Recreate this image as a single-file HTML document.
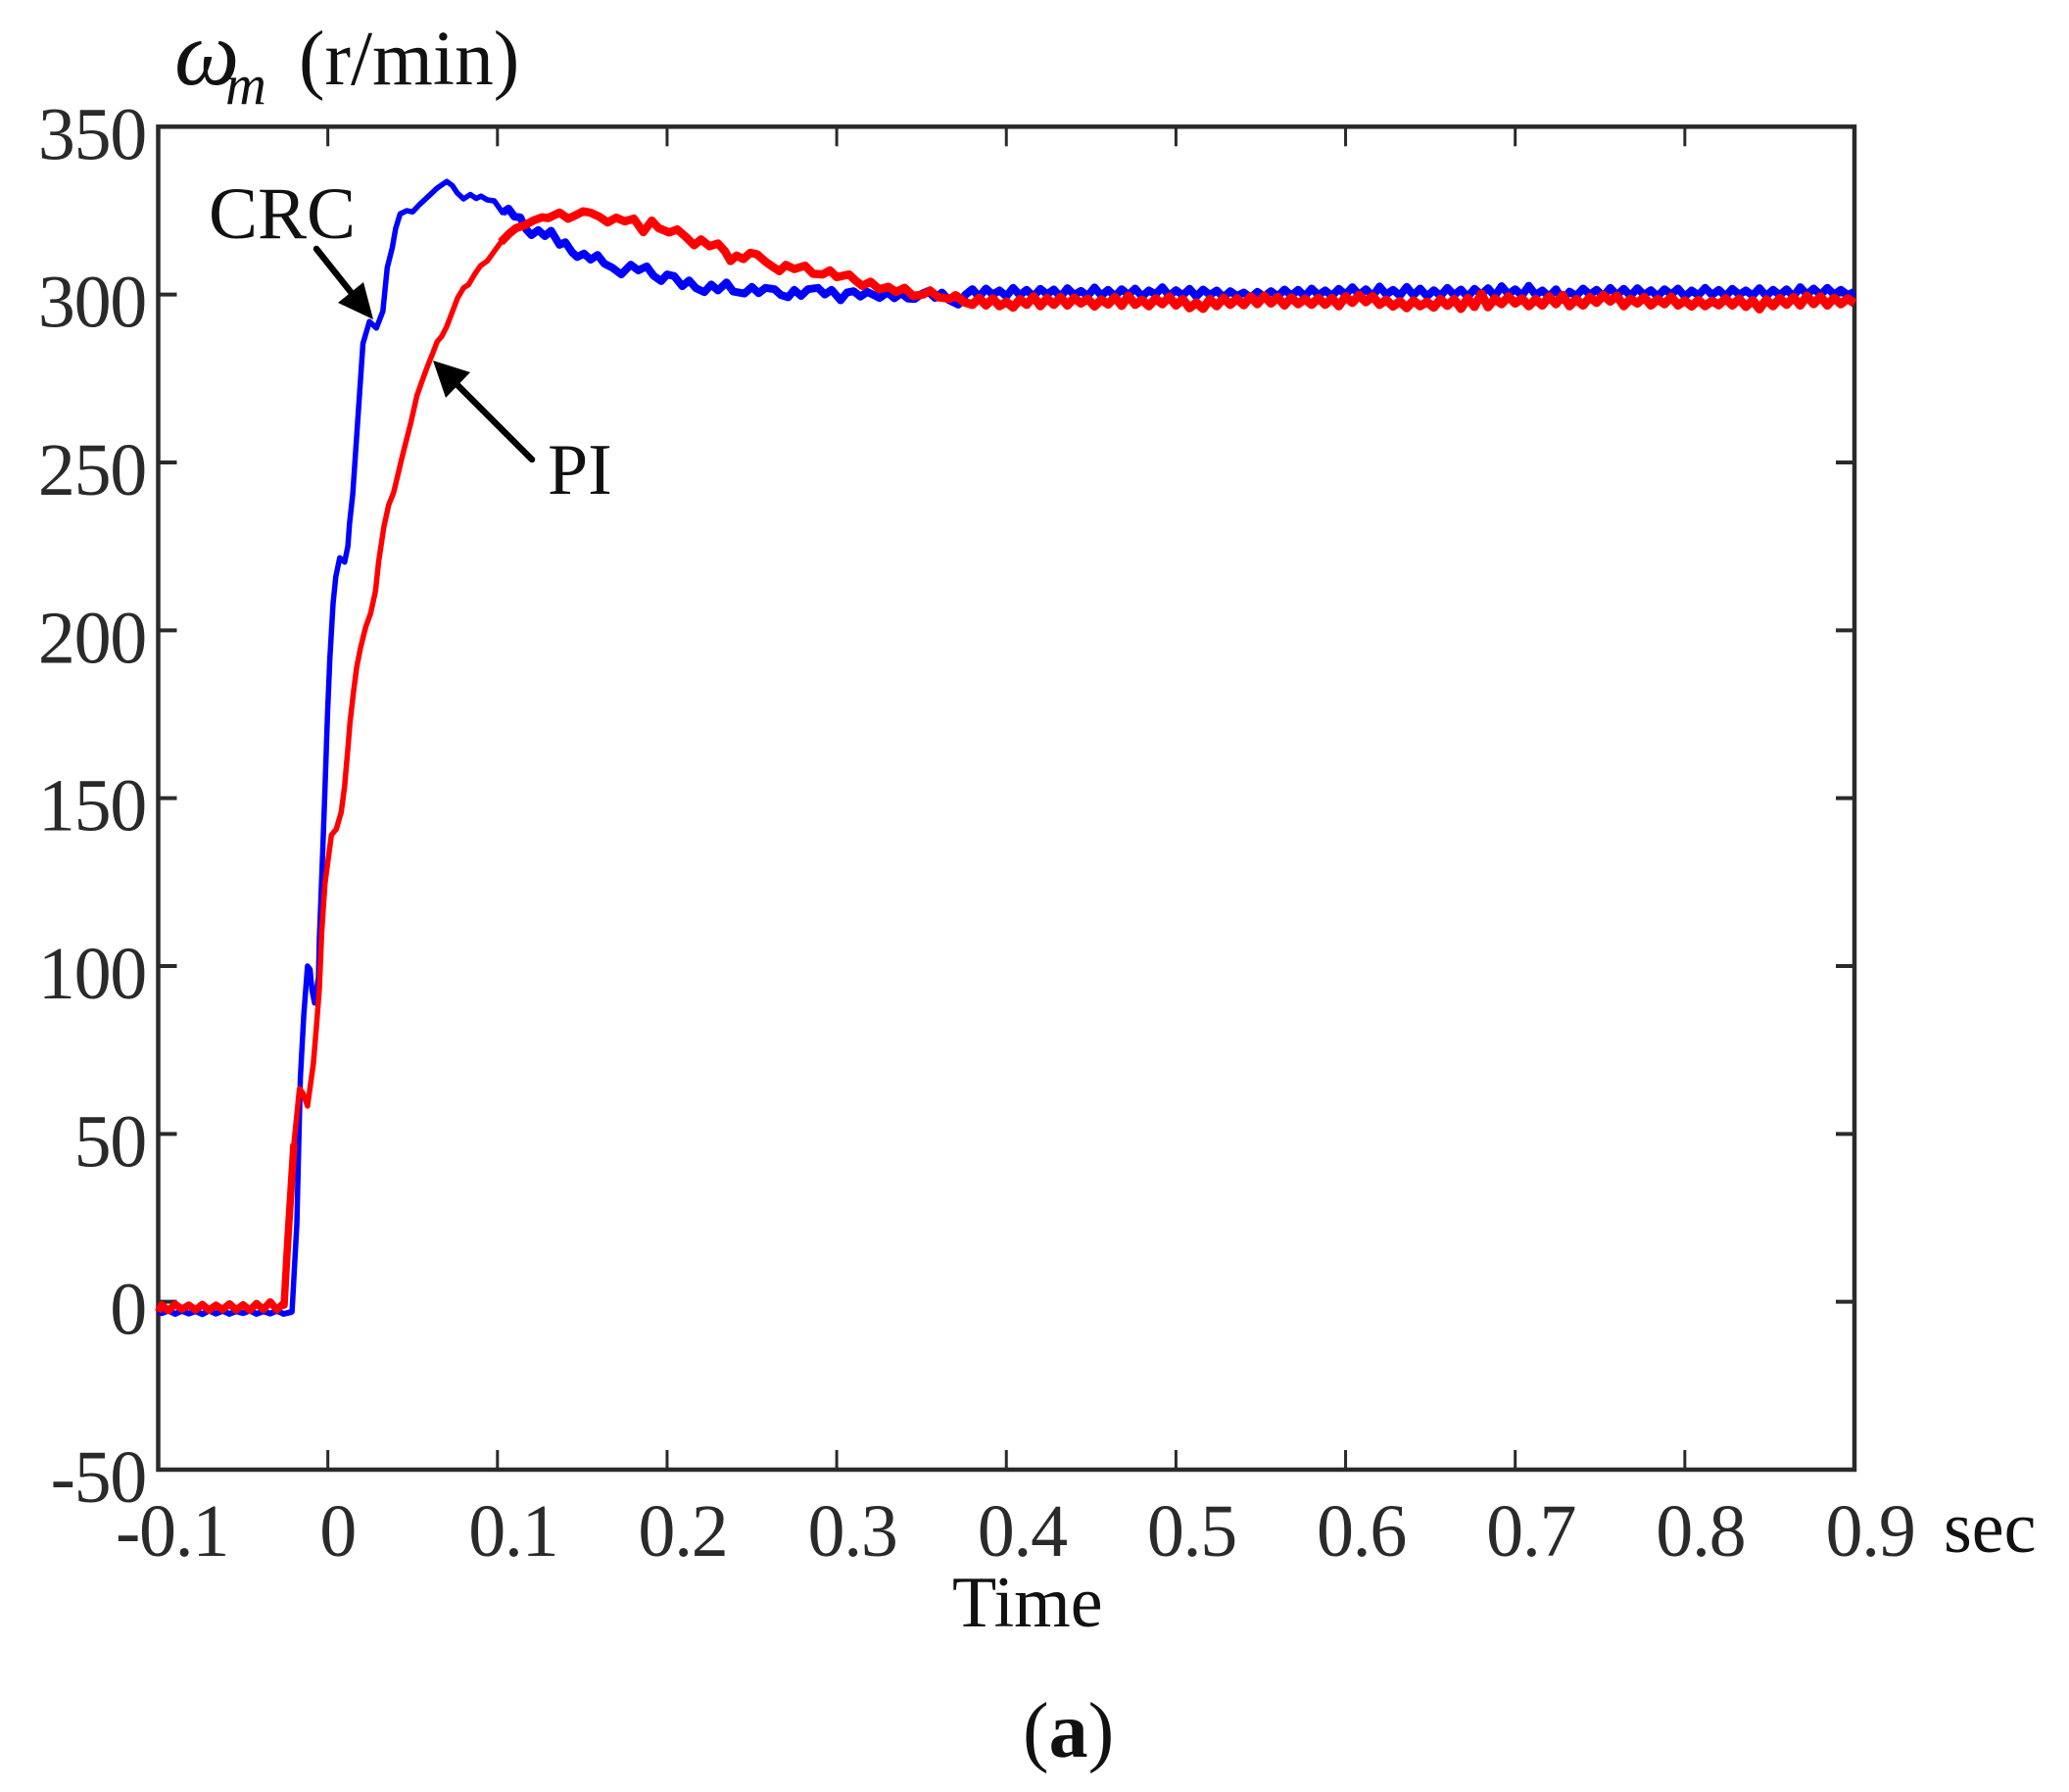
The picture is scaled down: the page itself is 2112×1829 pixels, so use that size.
<!DOCTYPE html>
<html lang="en">
<head>
<meta charset="utf-8">
<title>Speed response</title>
<style>
html,body{margin:0;padding:0;background:#fff;}
svg{display:block;}
text{font-family:"Liberation Serif",serif;}
</style>
</head>
<body>
<svg id="chart" xmlns="http://www.w3.org/2000/svg" width="2112" height="1829" viewBox="0 0 2112 1829">
  <rect x="0" y="0" width="2112" height="1829" fill="#fff"/>
  <g id="ticks"></g>
  <rect x="161.5" y="129.3" width="1731.5" height="1370.7" fill="none" stroke="#2a2a2a" stroke-width="4.5"/>
  <g id="series"></g>
  <g id="tick-labels"></g>

  <text x="178" y="86" font-size="94" font-style="italic" fill="#111">ω</text>
  <text x="230" y="106" font-size="58" font-style="italic" fill="#111">m</text>
  <text x="305" y="86" font-size="79.5" fill="#111">(r/min)</text>
  <text x="1984" y="1584" font-size="74" fill="#111">sec</text>
  <text x="972" y="1660" font-size="74" fill="#111">Time</text>
  <text x="1044" y="1793" font-size="80" fill="#111">(<tspan font-weight="bold">a</tspan>)</text>

  <text x="213" y="243" font-size="75" fill="#111">CRC</text>
  <line x1="323" y1="254" x2="362" y2="303" stroke="#000" stroke-width="6.5" stroke-linecap="round"/>
  <polygon points="381,326 371,288 345,309" fill="#000"/>
  <text x="559" y="504" font-size="74" fill="#111">PI</text>
  <line x1="543" y1="469" x2="466" y2="392" stroke="#000" stroke-width="6.5" stroke-linecap="round"/>
  <polygon points="442,368 480,380 455,406" fill="#000"/>
</svg>
<script>
var xTicks = [-0.1,0,0.1,0.2,0.3,0.4,0.5,0.6,0.7,0.8,0.9];
var xTickLabels = ["-0.1","0","0.1","0.2","0.3","0.4","0.5","0.6","0.7","0.8","0.9"];
var yTicks = [-50,0,50,100,150,200,250,300,350];
var yTickLabels = ["-50","0","50","100","150","200","250","300","350"];

var flatTime = [-0.1,-0.098,-0.094,-0.09,-0.086,-0.082,-0.078,-0.074,-0.07,-0.066,-0.062,-0.058,-0.054,-0.05,-0.046,-0.042,-0.038,-0.034,-0.03,-0.026];
var crcFlatSpeed = [-3,-3.4,-2.6,-3.6,-2.7,-3.5,-2.8,-3.7,-2.6,-3.5,-2.7,-3.6,-2.8,-3.4,-2.6,-3.6,-2.8,-3.5,-2.7,-3.6];
var piFlatSpeed = [-3,-0.9,-2.6,-0.7,-2.2,-1,-2.4,-0.8,-2.5,-1,-2.3,-0.6,-2.4,-0.9,-2.5,-0.5,-2.3,0,-2.4,-0.4];

var crcTime = [-0.0211,-0.0183,-0.0162,-0.0142,-0.012,-0.0105,-0.0094,-0.0078,-0.0055,-0.005,-0.003,-0.0017,-0.0002,0.0012,0.0031,0.0047,0.007,0.0099,0.0118,0.0128,0.0147,0.0207,0.0245,0.0286,0.0324,0.035,0.038,0.04,0.0426,0.0466,0.05,0.054,0.0594,0.0644,0.0701,0.0735,0.0762,0.08,0.084,0.0875,0.0903,0.094,0.0981,0.103,0.1065,0.11,0.1134,0.117,0.12,0.124,0.128,0.1316,0.1366,0.14,0.144,0.147,0.151,0.155,0.159,0.163,0.1677,0.173,0.1786,0.183,0.188,0.192,0.1965,0.2,0.2042,0.209,0.213,0.217,0.222,0.226,0.23,0.235,0.239,0.2456,0.25,0.254,0.258,0.2634,0.267,0.2714,0.275,0.279,0.283,0.289,0.293,0.297,0.3023,0.306,0.31,0.314,0.318,0.3253,0.33,0.334,0.338,0.342,0.346,0.35,0.3537,0.358,0.362,0.366,0.3717,0.376];
var crcSpeed = [-3,23,66.7,85.4,100,99,93,89,96.6,108,134.7,152.5,174.8,191.6,208,216,221.6,220.3,225,231.8,240.6,285.4,292,290,295,308,313.9,319.7,324,325,324.6,326.8,329.3,331.7,333.7,332.4,330.3,328.5,329.8,328.6,329.3,328.2,327.9,324.4,325.6,323.2,323,319.4,317.7,319.2,317.4,319,314.8,315.6,312.6,311.2,312.2,310.4,311.8,309.2,308,306,308.9,307.2,308.4,305.6,304,306,305.5,302.5,304.2,301.9,300.7,303,301.2,303.6,300.9,300.3,302.3,300.4,302,301.6,299.9,299.2,301.4,299.6,301.6,302,300,301.4,298.3,300.6,301,299.4,300.8,299,300.6,298.9,300.4,298.8,298.7,300.2,301,299,300.6,298.4,297,300];
var crcSettledSpeed = [301.6,299.3,301.8,300,301.2,299.5,302,299.8,301.4,299.4,301.7,300.1,301.5,299.3,301.9,299.9,301.1,299.6,302.1,299.7,301.4,299.5,301.6,299.9,301.8,299.4,301.2,300.1,302.2,299.6,301.3,299.8,301.7,299.4,301.5,299.9,301.2,299.2,301,299.6,300.6,299.1,300.8,299.4,301,299.5,301.5,299.7,301.4,299.5,301.8,299.9,301.2,299.6,301.7,300,302.2,299.9,301.6,299.5,302.4,300,301.4,299.7,302.3,299.8,301.8,299.5,301.3,299.6,302,299.9,301.5,299.3,301.7,300,301.9,299.5,302.5,300.1,301.6,299.7,302.6,299.9,301.2,299.4,301.6,298.4,300.9,299.6,301.8,300,301.4,299.5,302,299.8,301.7,299.6,301.9,299.9,301.3,299.5,301.6,300,301.8,299.4,301.2,299.8,302,299.9,301.4,299.5,301.7,300,301.2,299.7,301.9,299.6,301.4,299.8,301.6,299.4,302.2,300,301.8,299.9,302,300,301.4,299.9,300.8];

var piTime = [-0.0258,-0.0242,-0.023,-0.02,-0.0167,-0.0145,-0.012,-0.0085,-0.0065,-0.005,-0.0036,-0.0017,0.0002,0.0021,0.005,0.0079,0.0099,0.0118,0.0131,0.0151,0.017,0.0194,0.0223,0.0252,0.0281,0.03,0.033,0.0359,0.0388,0.044,0.049,0.0526,0.0568,0.0595,0.062,0.0645,0.0672,0.07,0.0735,0.0765,0.08,0.083,0.0865,0.09,0.094,0.098,0.102,0.107,0.111,0.116,0.121,0.1263,0.13,0.1366,0.1416,0.146,0.1505,0.1547,0.16,0.165,0.17,0.175,0.1804,0.186,0.191,0.195,0.2011,0.206,0.211,0.216,0.22,0.225,0.23,0.234,0.2374,0.241,0.245,0.249,0.253,0.258,0.262,0.2662,0.27,0.275,0.2814,0.286,0.2916,0.296,0.3,0.3073,0.311,0.315,0.32,0.325,0.3305,0.335,0.34,0.345,0.351,0.355,0.36,0.3667,0.37,0.375];
var piSpeed = [-1,13,23,47,63.5,62,58.3,71,83.4,93.3,110,124.5,131.8,139,140.8,145.8,153.6,164.7,172.6,181.5,189,195,201,205,211.7,220.6,230.7,237.4,241,252,262,270,276,279.6,282.7,286,287.6,290.4,295,299,302,303,306,308.6,310,312.8,315.6,318.2,319.8,320.6,322,323,322.8,324.4,322.6,323.6,324.8,324.4,323.2,321.5,322.9,321.8,322.6,318.6,322,319.8,318.5,319.4,317.2,314.7,316.4,314.4,315.2,313,310,311.6,310.6,312.4,312,309.8,308.4,307,308.8,307.6,308.6,306.2,306,307.2,305.2,306,304.2,302.6,303.8,301.6,302.3,300.8,302,299.6,300,301.2,299.2,298.7,299.8,297.8];
var piSettledSpeed = [297,299,296.8,298.8,296.6,297.8,296.2,298.6,297,299.4,296.6,298.9,297,299.2,296.8,299,297.4,298.7,296.5,298.5,297.1,299.2,296.7,299.6,297,298.4,296.6,298.8,297.2,299.3,296.8,298.6,296,297.6,295.8,298.6,296.6,299,297,298.8,296.9,299.4,297.2,299.6,297.4,299.2,296.8,299.1,297.2,298.7,297,299,297,298.9,296.6,299.4,297.6,299.8,297.8,299.5,297,298.4,296.5,298,296,298.2,296.6,297.8,296.2,298.6,296.7,298.6,295.8,298.9,296.4,300.2,296.3,298.8,297.2,299.4,297.4,298.8,296.6,298.6,296.8,299.4,297.2,299.8,296.6,298.6,296.8,299.2,297.6,299.8,298,299.6,296.6,298.7,297.4,299.2,296.8,298.6,297.2,299.3,296.8,298.2,296.5,298.4,296.6,298.1,296.9,298.8,296.8,298.7,296.4,298.3,295.7,298.5,296.6,298.9,297,299.2,296.8,299.6,297.2,299.4,296.8,299,297.2,298.8,297.4];
var settledStart = 0.38;
var settledStep = 0.004;

var plotLeft = 161.5, plotRight = 1893, plotTop = 129.3, plotBottom = 1500;
function xScale(t){ return plotLeft + (t + 0.1) / 1.0 * (plotRight - plotLeft); }
function yScale(v){ return plotBottom - (v + 50) / 400 * (plotBottom - plotTop); }

var svgNS = "http://www.w3.org/2000/svg";
var tickGroup = document.getElementById("ticks");
var labelGroup = document.getElementById("tick-labels");
var seriesGroup = document.getElementById("series");

function addTickLine(x1, y1, x2, y2, w){
  var el = document.createElementNS(svgNS, "line");
  
  
  el.setAttribute("x1", x1);
  el.setAttribute("y1", y1);
  el.setAttribute("x2", x2);
  el.setAttribute("y2", y2);
  el.setAttribute("stroke", "#2a2a2a");
  el.setAttribute("stroke-width", w);
  tickGroup.appendChild(el);
}
function addLabel(str, x, y, anchor){
  var el = document.createElementNS(svgNS, "text");
  
  
  el.setAttribute("x", x);
  el.setAttribute("y", y);
  el.setAttribute("text-anchor", anchor);
  el.setAttribute("font-size", "76");
  el.setAttribute("letter-spacing", "-1.3");
  el.setAttribute("fill", "#2a2a2a");
  el.textContent = str;
  labelGroup.appendChild(el);
}
xTicks.forEach(function(t, i){
  var x = xScale(t);
  if (i > 0 && i < xTicks.length - 1) {
    addTickLine(x, plotBottom, x, plotBottom - 20, 3);
    addTickLine(x, plotTop, x, plotTop + 20, 3);
  }
  var dx = t < 0 ? 14 : (t === 0 ? 10 : 16);
  addLabel(xTickLabels[i], x + dx, 1588, "middle");
});
yTicks.forEach(function(v, i){
  var y = yScale(v);
  if (i > 0 && i < yTicks.length - 1) {
    addTickLine(plotLeft, y, plotLeft + 19, y, 4);
    addTickLine(plotRight, y, plotRight - 19, y, 4);
  }
  addLabel(yTickLabels[i], 149, y + 33, "end");
});

function buildPoints(flatValues, times, values, settled){
  var pts = [];
  flatTime.forEach(function(t, i){ pts.push([t, flatValues[i]]); });
  times.forEach(function(t, i){ pts.push([t, values[i]]); });
  settled.forEach(function(v, i){ pts.push([settledStart + i * settledStep, v]); });
  return pts;
}
function sectionPath(pts, fromT, toT){
  var kept = pts.filter(function(p){ return p[0] >= fromT && p[0] <= toT; });
  return "M" + kept.map(function(p){ return xScale(p[0]).toFixed(1) + "," + yScale(p[1]).toFixed(1); }).join("L");
}
function addSection(name, color, d, width){
  var el = document.createElementNS(svgNS, "path");
  
  
  el.setAttribute("d", d);
  el.setAttribute("fill", "none");
  el.setAttribute("stroke", color);
  el.setAttribute("stroke-width", width);
  el.setAttribute("stroke-linejoin", "round");
  el.setAttribute("stroke-linecap", "butt");
  seriesGroup.appendChild(el);
}
function addSeries(name, color, pts, flatWidth, noisyWidth, settledWidth){
  addSection(name + "-idle", color, sectionPath(pts, -1, -0.02), flatWidth);
  addSection(name + "-rise", color, sectionPath(pts, -0.03, 0.11), 5.5);
  addSection(name + "-decay", color, sectionPath(pts, 0.1, 0.39), noisyWidth);
  addSection(name + "-settled", color, sectionPath(pts, 0.37, 0.9), settledWidth);
}
addSeries("crc-speed-line", "#0000ff", buildPoints(crcFlatSpeed, crcTime, crcSpeed, crcSettledSpeed), 6, 8, 8);
addSeries("pi-speed-line", "#ff0000", buildPoints(piFlatSpeed, piTime, piSpeed, piSettledSpeed), 7.5, 8.5, 9);
</script>
</body>
</html>
